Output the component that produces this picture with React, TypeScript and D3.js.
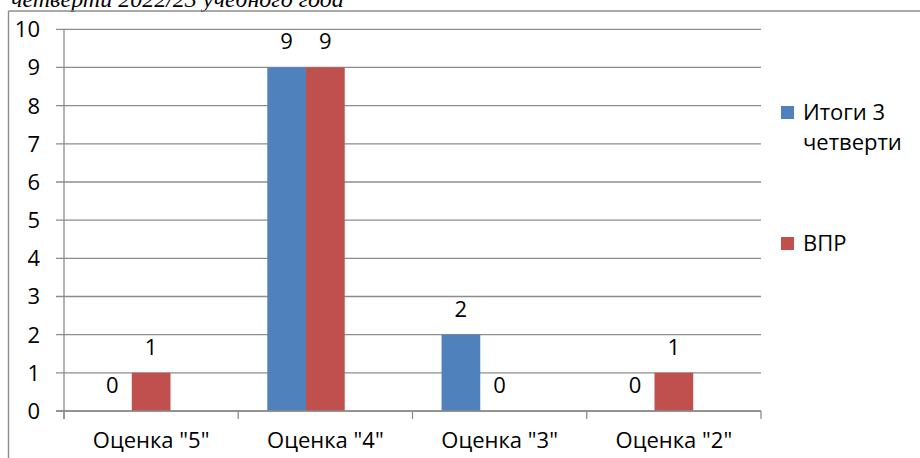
import React from "react";
import * as d3 from "d3";

const categories = ['Оценка "5"', 'Оценка "4"', 'Оценка "3"', 'Оценка "2"'];
const seriesNames = ["Итоги 3 четверти", "ВПР"];
const slotNames = ["Итоги 3 четверти", "ВПР", "(пусто)"];
const itogi = [0, 9, 2, 0];
const vpr = [1, 9, 0, 1];
const yTicks = [0, 1, 2, 3, 4, 5, 6, 7, 8, 9, 10];
const colors = ["#4F81BD", "#C0504D"];
const titleText = "четверти 2022/23 учебного года";

const W = 920;
const H = 458;
const FONT = "'Open Sans', 'Noto Sans', sans-serif";
const FS = 22;

export default function App() {
  const x0 = d3.scaleBand<string>().domain(categories).range([64, 761]).padding(0);
  const x1 = d3
    .scaleBand<string>()
    .domain(slotNames)
    .range([0, x0.bandwidth()])
    .paddingInner(0)
    .paddingOuter(0.75);
  const y = d3.scaleLinear().domain([0, 10]).range([411, 29.3]);
  const data = [itogi, vpr];
  const grid = "#8c8c8c";

  return (
    <>
      <style>{`body{margin:0}`}</style>
      <svg width={W} height={H} style={{ display: "block" }}>
        <rect width={W} height={H} fill="#fff" />
        <text
          x={11}
          y={7}
          fontFamily="'Liberation Serif', serif"
          fontStyle="italic"
          fontSize={24}
          fill="#000"
        >
          {titleText}
        </text>
        {/* outer frame */}
        <line x1={8.5} x2={W} y1={11} y2={11} stroke={grid} strokeWidth={1.4} />
        <line x1={8.5} x2={8.5} y1={11} y2={H} stroke={grid} strokeWidth={1.4} />
        {/* gridlines and y ticks */}
        {yTicks.map((t) => (
          <g key={t}>
            <line x1={56} x2={761} y1={y(t)} y2={y(t)} stroke={grid} strokeWidth={1.3} />
            <text
              x={40}
              y={y(t)}
              dy="0.36em"
              textAnchor="end"
              fontFamily={FONT}
              fontSize={FS}
              fill="#000"
            >
              {t}
            </text>
          </g>
        ))}
        {/* y axis */}
        <line x1={64} x2={64} y1={y(10)} y2={419} stroke={grid} strokeWidth={1.3} />
        {/* x ticks */}
        {[...categories.map((c) => x0(c) as number), 761].map((xx, i) => (
          <line key={i} x1={xx} x2={xx} y1={y(0)} y2={419} stroke={grid} strokeWidth={1.3} />
        ))}
        {/* bars */}
        {data.map((vals, si) =>
          vals.map((v, ci) => {
            const bx = (x0(categories[ci]) as number) + (x1(slotNames[si]) as number);
            const bw = x1.bandwidth();
            return (
              <g key={`${si}-${ci}`}>
                <rect
                  x={bx}
                  y={y(v)}
                  width={bw}
                  height={y(0) - y(v)}
                  fill={colors[si]}
                />
                <text
                  x={bx + bw / 2}
                  y={y(v) - 18}
                  textAnchor="middle"
                  fontFamily={FONT}
                  fontSize={FS}
                  fill="#000"
                >
                  {v}
                </text>
              </g>
            );
          })
        )}
        {/* redraw baseline on top */}
        <line x1={56} x2={761} y1={y(0)} y2={y(0)} stroke={grid} strokeWidth={1.3} />
        {/* category labels */}
        {categories.map((c) => (
          <text
            key={c}
            x={(x0(c) as number) + x0.bandwidth() / 2}
            y={448}
            textAnchor="middle"
            fontFamily={FONT}
            fontSize={FS}
            fill="#000"
          >
            {c}
          </text>
        ))}
        {/* legend */}
        <rect x={781} y={106} width={13} height={13} fill={colors[0]} />
        <text x={803} y={120} fontFamily={FONT} fontSize={FS} fill="#000">
          Итоги 3
        </text>
        <text x={803} y={150} fontFamily={FONT} fontSize={FS} fill="#000">
          четверти
        </text>
        <rect x={781} y={237} width={13} height={13} fill={colors[1]} />
        <text x={803} y={251} fontFamily={FONT} fontSize={FS} fill="#000">
          {seriesNames[1]}
        </text>
      </svg>
    </>
  );
}
